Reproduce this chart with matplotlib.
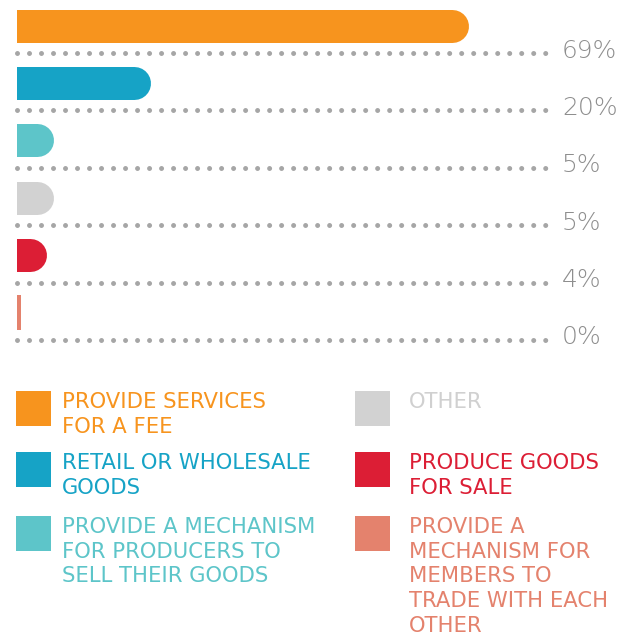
import matplotlib
matplotlib.use("Agg")
import matplotlib.pyplot as plt
from matplotlib.transforms import blended_transform_factory
from matplotlib.patches import Rectangle

# ---- data ----
categories = [
    "PROVIDE SERVICES\nFOR A FEE",
    "RETAIL OR WHOLESALE\nGOODS",
    "PROVIDE A MECHANISM\nFOR PRODUCERS TO\nSELL THEIR GOODS",
    "OTHER",
    "PRODUCE GOODS\nFOR SALE",
    "PROVIDE A\nMECHANISM FOR\nMEMBERS TO\nTRADE WITH EACH\nOTHER",
]
values = [69, 20, 5, 5, 4, 0]
value_labels = ["69%", "20%", "5%", "5%", "4%", "0%"]
bar_colors = ["#F7941E", "#16A3C6", "#5DC5C9", "#D2D2D2", "#DC1E35", "#E4826D"]
text_colors = ["#F7941E", "#16A3C6", "#5DC5C9", "#D0D0D0", "#DC1E35", "#E4826D"]

# ---- figure geometry (pixels) ----
W, H = 632, 637
DPI = 100
PT = 72.0 / DPI  # points per pixel

fig = plt.figure(figsize=(W / DPI, H / DPI), dpi=DPI)
fig.patch.set_facecolor("white")

L, R = 16.5, 546.0          # axes edges (px)
ORIGIN = 21.0               # pixel of value 0
TOP, BOT = 0.0, 360.0
ax = fig.add_axes([L / W, 1 - BOT / H, (R - L) / W, (BOT - TOP) / H])
ax.set_axis_off()

px_per_pct = (468 - ORIGIN) / 69.0
row_px = 57.4
bar0_center = 25.5
xmin = -(ORIGIN - L) / px_per_pct
ax.set_xlim(xmin, xmin + (R - L) / px_per_pct)
ax.set_ylim((BOT - bar0_center) / row_px, (TOP - bar0_center) / row_px)

bar_h_px = 33.0
cap_r = (bar_h_px / 2) / px_per_pct
dot_offset = 27.5 / row_px

trans_dots = blended_transform_factory(ax.transAxes, ax.transData)

for i, (v, c, lab) in enumerate(zip(values, bar_colors, value_labels)):
    if (v - xmin) * px_per_pct >= bar_h_px / 2:
        ax.plot([xmin - 2 * cap_r, v - cap_r], [i, i], color=c, lw=bar_h_px * PT,
                solid_capstyle="round", zorder=3)
    else:
        ax.barh(i, v - xmin, height=(bar_h_px + 2) / row_px, left=xmin,
                color=c, zorder=3)
    # dotted guide
    ax.plot([0, 1], [i + dot_offset, i + dot_offset], transform=trans_dots,
            color="#A6A6A6", lw=5 * PT, linestyle=(0, (0.001, 12 / 5.0)),
            dash_capstyle="round", clip_on=False, zorder=2)
    ax.annotate(lab, xy=(1, i + dot_offset), xycoords=("axes fraction", "data"),
                xytext=(16 * PT, -4.5 * PT), textcoords="offset points",
                ha="left", va="baseline", fontsize=18, color="#8E8E8E",
                family="DejaVu Sans", fontweight=200, annotation_clip=False)

# ---- legend ----
lax = fig.add_axes([0, 0, 1, 1])
lax.set_xlim(0, W)
lax.set_ylim(H, 0)
lax.set_axis_off()
lax.patch.set_alpha(0)

col_sq_x = [16, 355]
col_tx_x = [62, 409]
row_top = [391, 452, 516]
sq = 35
line_pitch = 24.8

for idx, (cat, c, tc) in enumerate(zip(categories, bar_colors, text_colors)):
    col, row = idx // 3, idx % 3
    y0 = row_top[row]
    lax.add_patch(Rectangle((col_sq_x[col], y0), sq, sq, facecolor=c,
                            edgecolor="none"))
    for j, line in enumerate(cat.split("\n")):
        lax.text(col_tx_x[col], y0 + 16.8 + j * line_pitch, line,
                 ha="left", va="baseline", fontsize=15.2, color=tc,
                 family="DejaVu Sans")

fig.savefig("out.png", dpi=DPI, facecolor="white")
